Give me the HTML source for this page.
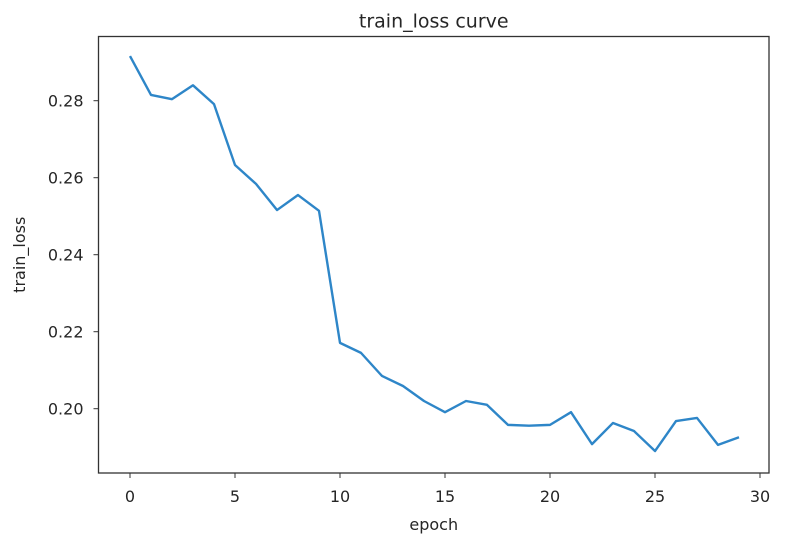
<!DOCTYPE html>
<html><head><meta charset="utf-8"><style>
body{margin:0;background:#fff;}
svg text{font-family:"DejaVu Sans","Liberation Sans",sans-serif;fill:#262626;}
</style></head><body>
<svg id="chart" width="810" height="542">
<rect x="0" y="0" width="810" height="542" fill="#fff"/>
<g id="plot"></g>
</svg>
<script>
const epochs=[0,1,2,3,4,5,6,7,8,9,10,11,12,13,14,15,16,17,18,19,20,21,22,23,24,25,26,27,28,29];
const trainLoss=[0.2916,0.2815,0.2804,0.2840,0.2791,0.2633,0.2584,0.2516,0.2555,0.2514,0.2171,0.2145,0.2085,0.2059,0.2020,0.1991,0.2020,0.2010,0.1958,0.1956,0.1958,0.1991,0.1908,0.1963,0.1942,0.1890,0.1968,0.1976,0.1906,0.1926];
const xTicks=[0,5,10,15,20,25,30];
const yTicks=[0.20,0.22,0.24,0.26,0.28];
const L=98.5,R=769,T=36.5,B=473;
const xs=v=>130+v*21;
const ys=v=>408.7-(v-0.20)*3850;
const NS='http://www.w3.org/2000/svg';
const g=document.getElementById('plot');
function mk(t,a){const e=document.createElementNS(NS,t);for(const k in a)e.setAttribute(k,a[k]);g.appendChild(e);return e;}
const line=mk('polyline',{points:epochs.map((x,i)=>xs(x)+','+ys(trainLoss[i])).join(' '),fill:'none',stroke:'#2e86c8','stroke-width':2.4,'stroke-linejoin':'round'});


xTicks.forEach(v=>{
 const t=mk('line',{x1:xs(v),x2:xs(v),y1:B,y2:B+5,stroke:'#333','stroke-width':1});
 
 
 const l=mk('text',{x:xs(v),y:B+29,'text-anchor':'middle','font-size':16});
 l.textContent=v;
 
 
});
yTicks.forEach(v=>{
 const t=mk('line',{x1:L-5,x2:L,y1:ys(v),y2:ys(v),stroke:'#333','stroke-width':1});
 
 
 const l=mk('text',{x:L-15,y:ys(v)+6,'text-anchor':'end','font-size':16});
 l.textContent=v.toFixed(2);
 
 
});
const fr=mk('rect',{x:L,y:T,width:R-L,height:B-T,fill:'none',stroke:'#333','stroke-width':1.3});


const ti=mk('text',{x:(L+R)/2,y:T-9,'text-anchor':'middle','font-size':19});
ti.textContent='train_loss curve';


const xl=mk('text',{x:(L+R)/2,y:B+57,'text-anchor':'middle','font-size':16});
xl.textContent='epoch';


const yl=mk('text',{x:0,y:0,'text-anchor':'middle','font-size':16,transform:'translate(25,'+(T+B)/2+') rotate(-90)'});
yl.textContent='train_loss';


</script>
</body></html>
